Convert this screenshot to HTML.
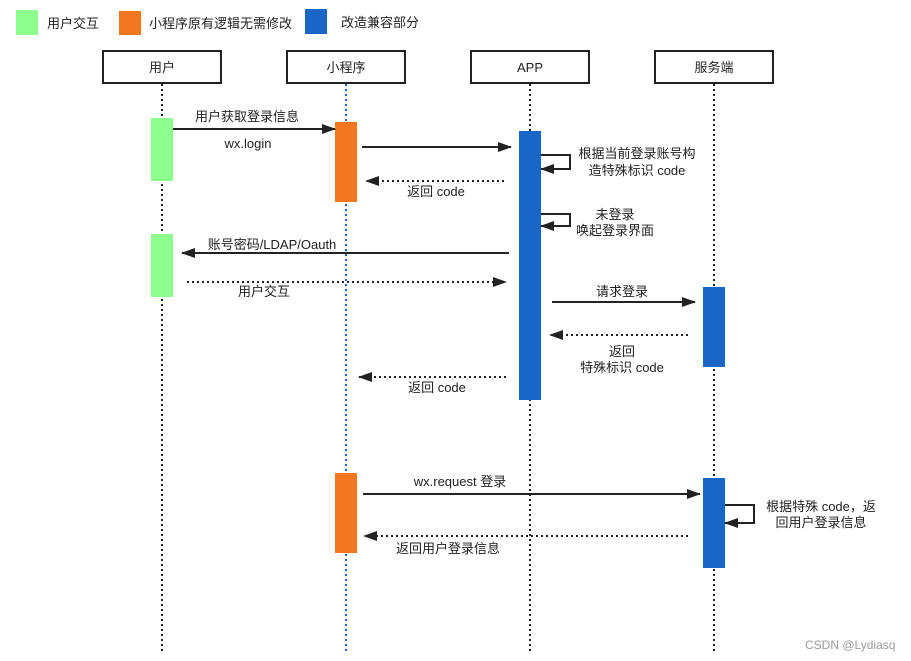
<!DOCTYPE html>
<html><head><meta charset="utf-8"><style>body{margin:0;background:#fff}svg{display:block}text{font-family:"Liberation Sans","Noto Sans CJK SC",sans-serif;font-size:13px;fill:#222}</style></head><body>
<svg width="911" height="661" viewBox="0 0 911 661" xmlns="http://www.w3.org/2000/svg">
<defs><marker id="a" markerWidth="14" markerHeight="10" refX="13" refY="5" orient="auto" markerUnits="userSpaceOnUse"><path d="M0,0 L14,5 L0,10 z" fill="#222"/></marker></defs>
<rect x="16" y="10" width="22" height="25" fill="#8dff8d"/><text x="47" y="28">用户交互</text>
<rect x="119" y="11" width="22" height="24" fill="#f47621"/><text x="149" y="28">小程序原有逻辑无需修改</text>
<rect x="305" y="9" width="22" height="25" fill="#1a66c6"/><text x="341" y="27">改造兼容部分</text>
<g stroke="#222" stroke-width="2" fill="#fff">
<rect x="103" y="51" width="118" height="32"/><rect x="287" y="51" width="118" height="32"/><rect x="471" y="51" width="118" height="32"/><rect x="655" y="51" width="118" height="32"/></g>
<g text-anchor="middle"><text x="162" y="72">用户</text><text x="346" y="72">小程序</text><text x="530" y="72">APP</text><text x="714" y="72">服务端</text></g>
<g stroke-width="2" stroke-dasharray="2,3">
<line x1="162" y1="84" x2="162" y2="651" stroke="#222"/><line x1="346" y1="84" x2="346" y2="651" stroke="#1a66c6"/><line x1="530" y1="84" x2="530" y2="651" stroke="#222"/><line x1="714" y1="84" x2="714" y2="651" stroke="#222"/></g>
<rect x="151" y="118" width="22" height="63" fill="#8dff8d"/><rect x="151" y="234" width="22" height="63" fill="#8dff8d"/>
<rect x="335" y="122" width="22" height="80" fill="#f47621"/><rect x="335" y="473" width="22" height="80" fill="#f47621"/>
<rect x="519" y="131" width="22" height="269" fill="#1a66c6"/>
<rect x="703" y="287" width="22" height="80" fill="#1a66c6"/><rect x="703" y="478" width="22" height="90" fill="#1a66c6"/>
<g stroke="#222" stroke-width="2" fill="none" marker-end="url(#a)">
<line x1="173" y1="129" x2="335" y2="129"/><line x1="362" y1="147" x2="511" y2="147"/>
<line x1="504" y1="181" x2="366" y2="181" stroke-dasharray="2,3"/>
<polyline points="541,155 570,155 570,169 541,169"/><polyline points="541,214 570,214 570,226 541,226"/>
<line x1="509" y1="253" x2="182" y2="253"/><line x1="187" y1="282" x2="506" y2="282" stroke-dasharray="2,3"/>
<line x1="552" y1="302" x2="695" y2="302"/><line x1="688" y1="335" x2="550" y2="335" stroke-dasharray="2,3"/>
<line x1="506" y1="377" x2="359" y2="377" stroke-dasharray="2,3"/>
<line x1="363" y1="494" x2="700" y2="494"/><line x1="688" y1="536" x2="364" y2="536" stroke-dasharray="2,3"/>
<polyline points="725,505 754,505 754,523 725,523"/></g>
<g text-anchor="middle">
<text x="247" y="121">用户获取登录信息</text><text x="248" y="148">wx.login</text><text x="436" y="196">返回 code</text>
<text x="637" y="158">根据当前登录账号构</text><text x="637" y="175">造特殊标识 code</text>
<text x="615" y="219">未登录</text><text x="615" y="235">唤起登录界面</text>
<text x="272" y="249">账号密码/LDAP/Oauth</text><text x="264" y="296">用户交互</text>
<text x="622" y="296">请求登录</text><text x="622" y="356">返回</text><text x="622" y="372">特殊标识 code</text>
<text x="437" y="392">返回 code</text><text x="460" y="486">wx.request 登录</text><text x="448" y="553">返回用户登录信息</text>
<text x="821" y="511">根据特殊 code，返</text><text x="821" y="527">回用户登录信息</text></g>
<text x="805" y="649" style="font-size:12px;fill:#999">CSDN @Lydiasq</text>
</svg></body></html>
